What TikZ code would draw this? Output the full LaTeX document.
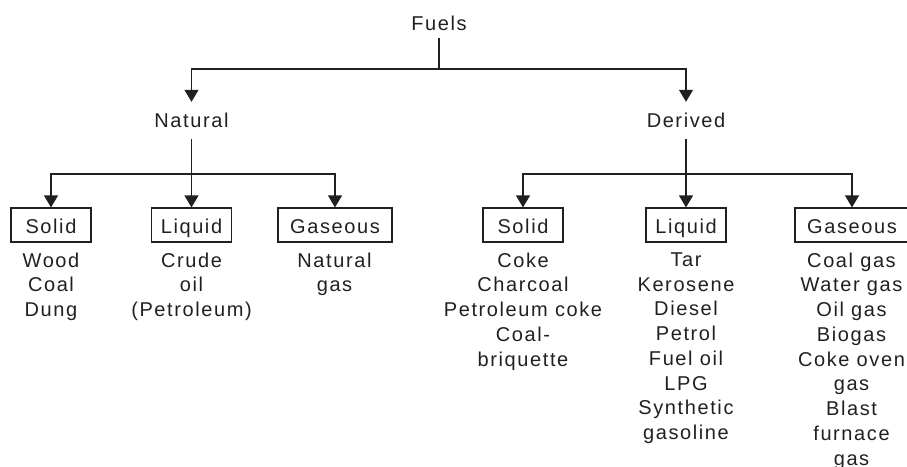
\documentclass[tikz,border=0pt]{standalone}
\usepackage{fontspec}
\setmainfont{Liberation Sans}[LetterSpace=8]
\usetikzlibrary{arrows.meta}
\definecolor{ink}{RGB}{35,31,32}
\begin{document}
\begin{tikzpicture}[x=1pt,y=1pt,
  every node/.style={font=\fontsize{20}{24.75}\selectfont, text=ink},
  lbl/.style={inner xsep=2pt, inner ysep=10pt, text height=15pt, text depth=2pt, anchor=base},
  catbox/.style={draw=ink, line width=1.2pt, inner xsep=0pt, inner ysep=0pt, minimum height=34pt, text height=20pt, text depth=4pt},
  items/.style={align=center, inner sep=0pt, anchor=north},
  conn/.style={draw=ink, line width=1.2pt},
  arr/.style={conn, -{Triangle[width=14pt,length=12pt]}}
]
\useasboundingbox (0,0) rectangle (907,-466);

% top levels
\node[lbl, inner ysep=6pt] (fuels) at (439,-30) {Fuels};
\node[lbl] (natural) at (191.5,-127) {Natural};
\node[lbl] (derived) at (686,-127) {Derived};

% category boxes
\node[catbox, minimum width=80pt]  (nsol) at (51,-225)    {Solid};
\node[catbox, minimum width=80pt]  (nliq) at (191.5,-225) {Liquid};
\node[catbox, minimum width=114pt] (ngas) at (335,-225)   {Gaseous};
\node[catbox, minimum width=80pt]  (dsol) at (523,-225)   {Solid};
\node[catbox, minimum width=80pt]  (dliq) at (686,-225)   {Liquid};
\node[catbox, minimum width=114pt] (dgas) at (852,-225)   {Gaseous};

% item lists (top of first line)
\node[items] (nsolL) at (51,-252.5)    {Wood\\Coal\\Dung};
\node[items] (nliqL) at (191.5,-252.5) {Crude\\oil\\(Petroleum)};
\node[items] (ngasL) at (334.5,-252.5) {Natural\\gas};
\node[items] (dsolL) at (523,-252.5)   {Coke\\Charcoal\\Petroleum coke\\Coal-\\briquette};
\node[items] (dliqL) at (686,-252.5)   {Tar\\Kerosene\\Diesel\\Petrol\\Fuel oil\\LPG\\Synthetic\\gasoline};
\node[items] (dgasL) at (851.5,-252.5) {Coal gas\\Water gas\\Oil gas\\Biogas\\Coke oven\\gas\\Blast\\furnace\\gas};

% junctions
\coordinate (jtop) at (439,-69);
\coordinate (jnat) at (191.5,-174);
\coordinate (jder) at (686,-174);

% connectors
\draw[conn] (fuels.south) -- (jtop);
\draw[arr] (jtop) -| (natural.north);
\draw[arr] (jtop) -| (derived.north);
\draw[arr] (natural.south) -- (nliq.north);
\draw[arr] (jnat) -| (nsol.north);
\draw[arr] (jnat) -| (ngas.north);
\draw[arr] (derived.south) -- (dliq.north);
\draw[arr] (jder) -| (dsol.north);
\draw[arr] (jder) -| (dgas.north);
\end{tikzpicture}
\end{document}
